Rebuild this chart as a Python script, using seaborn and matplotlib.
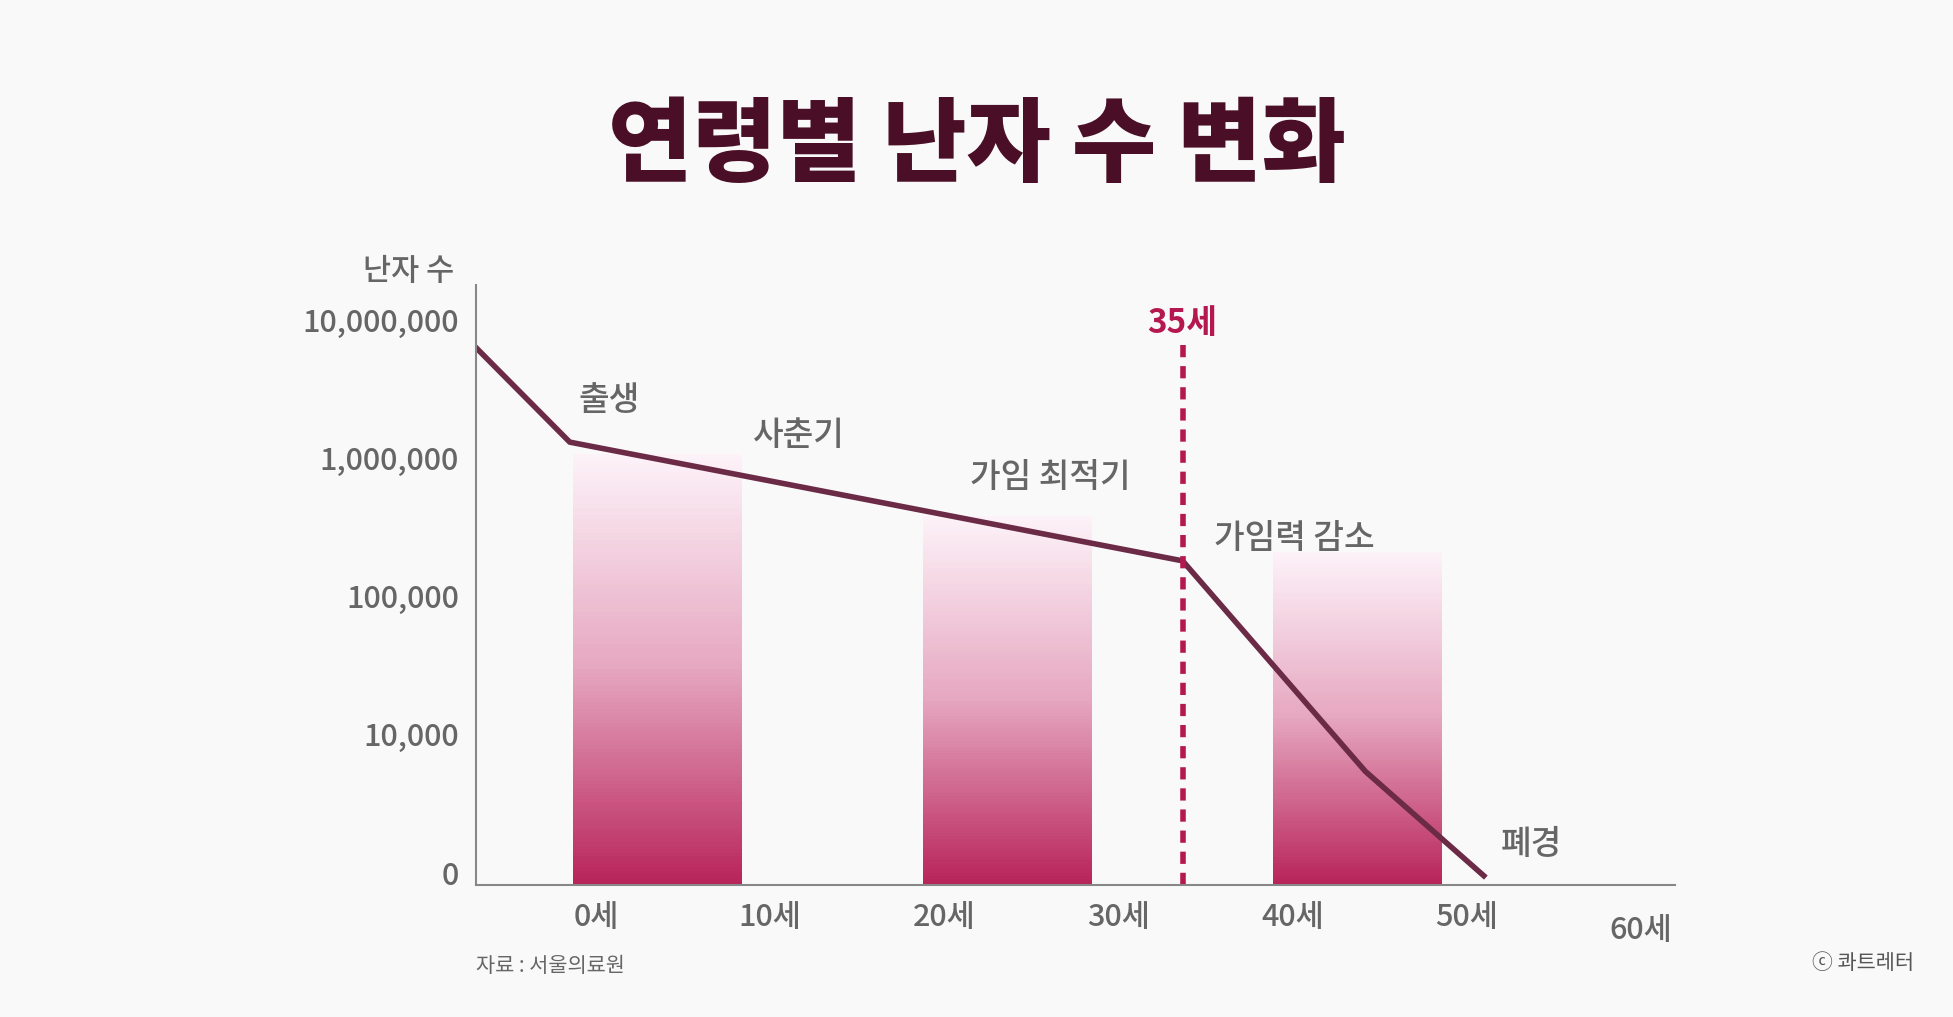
import numpy as np
import pandas as pd
import matplotlib
matplotlib.use('Agg')
import matplotlib.pyplot as plt
import matplotlib.colors as mcolors
import seaborn as sns

plt.rcParams['font.family'] = ['Noto Sans CJK JP', 'Noto Sans CJK KR', 'Noto Sans CJK SC', 'DejaVu Sans']

# data
line_age = [-6.9, -1.5, 33.7, 44.2, 51.0]
line_eggs = [6300000, 1300000, 180000, 5400, 950]
bar_start = [-1.3, 18.8, 38.9]
bar_end = [8.4, 28.5, 48.6]
bar_top = [1070000, 380000, 210000]
ytick_vals = [1e3, 1e4, 1e5, 1e6, 1e7]
ytick_labels = ['0', '10,000', '100,000', '1,000,000', '10,000,000']
xtick_vals = [0, 10, 20, 30, 40, 50]
xtick_labels = ['0세', '10세', '20세', '30세', '40세', '50세']
stage_labels = ['출생', '사춘기', '가임 최적기', '가임력 감소', '폐경']
stage_x = [-1.0, 9.0, 21.5, 35.5, 52.0]
stage_y = [2.6e6, 1.45e6, 7.2e5, 2.6e5, 1.6e3]

bg = '#f9f9f9'
fig = plt.figure(figsize=(19.53, 10.17), dpi=100, facecolor=bg)
ax = fig.add_axes([0.2436, 0.1297, 0.6142, 0.59])
ax.set_facecolor(bg)
ax.set_yscale('log')
ymin, ymax = 10 ** 2.91, 10 ** 7.25
ax.set_ylim(ymin, ymax)
ax.set_xlim(-6.9, 62)

# gradient bars
cmap = mcolors.LinearSegmentedColormap.from_list('g', ['#b8245a', '#e6a7c0', '#fdf3f9'])
n = 120
for s, e, t in zip(bar_start, bar_end, bar_top):
    lv = np.linspace(np.log10(ymin), np.log10(t), n + 1)
    for i in range(n):
        ax.bar(s, 10 ** lv[i + 1] - 10 ** lv[i], bottom=10 ** lv[i], width=e - s,
               align='edge', color=cmap(i / n), linewidth=0)

df = pd.DataFrame({'age': line_age, 'eggs': line_eggs})
sns.lineplot(data=df, x='age', y='eggs', ax=ax, color='#6b2a45', linewidth=4, sort=False)

ax.plot([33.7, 33.7], [ymin, 10 ** 6.85], color='#b5174f', linewidth=4, linestyle=(0, (2.2, 1.6)))
ax.text(33.7, 10 ** 6.97, '35세', color='#b5174f', fontsize=24, fontweight='bold', ha='center', va='center')

for lab, x, y in zip(stage_labels, stage_x, stage_y):
    ax.text(x, y, lab, fontsize=24, color='#666666', ha='left', va='center', fontweight='medium')

ax.set_yticks(ytick_vals)
ax.set_yticklabels(ytick_labels)
ax.minorticks_off()
ax.set_xticks(xtick_vals)
ax.set_xticklabels(xtick_labels)
ax.tick_params(length=0, labelsize=22, labelcolor='#666666', pad=12)
for lbl in ax.get_yticklabels() + ax.get_xticklabels():
    lbl.set_fontweight('medium')
ax.text(60, -0.05, '60세', transform=ax.get_xaxis_transform(), fontsize=22, color='#666666',
        ha='center', va='top', fontweight='medium')
ax.set_xlabel('')
ax.set_ylabel('')
for sp in ['top', 'right']:
    ax.spines[sp].set_visible(False)
for sp in ['left', 'bottom']:
    ax.spines[sp].set_color('#888888')
    ax.spines[sp].set_linewidth(1.5)

fig.text(0.2325, 0.733, '난자 수', fontsize=22, color='#666666', ha='right', va='center', fontweight='medium')
fig.text(0.5, 0.856, '연령별 난자 수 변화', fontsize=66, fontweight='black', color='#4a0f26',
         ha='center', va='center')
fig.text(0.2436, 0.05, '자료 : 서울의료원', fontsize=15, color='#666666', ha='left', va='center')
fig.text(0.98, 0.053, 'ⓒ 콰트레터', fontsize=15, color='#555555', ha='right', va='center')

fig.savefig('out.png', dpi=100, facecolor=bg)
